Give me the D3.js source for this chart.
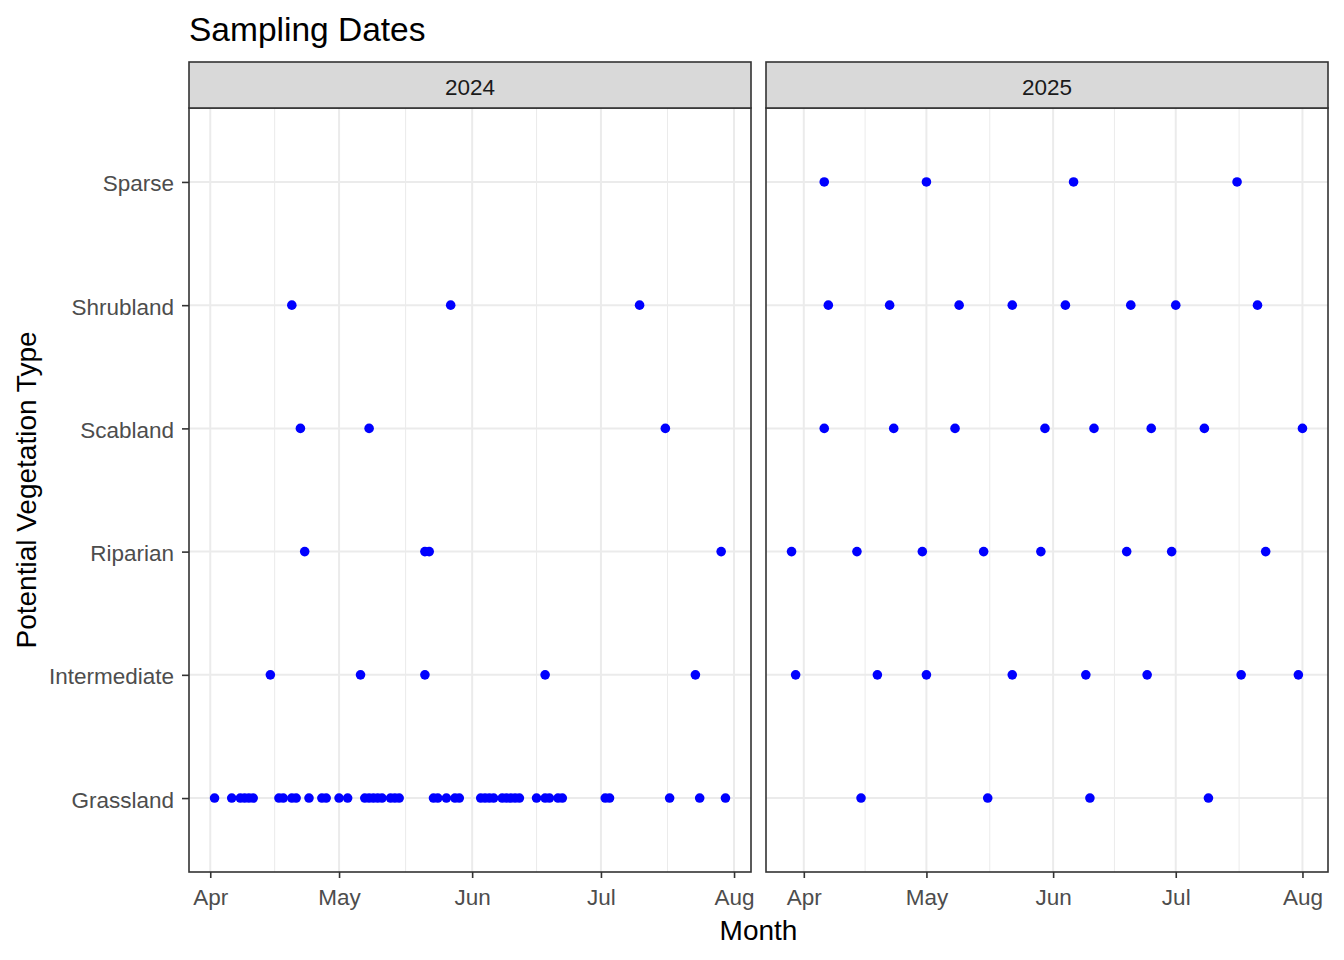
<!DOCTYPE html>
<html>
<head>
<meta charset="utf-8">
<script src="https://cdn.jsdelivr.net/npm/d3@7"></script>
<style>
  body { margin: 0; background: #fff; }
  svg { display: block; font-family: "Liberation Sans", Arial, sans-serif; }
</style>
</head>
<body>
<svg id="chart" width="1344" height="960"></svg>
<script>
// ---- Data ----
const vegTypes = ["Grassland", "Intermediate", "Riparian", "Scabland", "Shrubland", "Sparse"];
const years = ["2024", "2025"];
const monthTicks2024 = ["2024-04-01", "2024-05-01", "2024-06-01", "2024-07-01", "2024-08-01"];
const monthTicks2025 = ["2025-04-01", "2025-05-01", "2025-06-01", "2025-07-01", "2025-08-01"];

const grassland2024 = ["2024-04-02","2024-04-06","2024-04-08","2024-04-09","2024-04-10","2024-04-11",
  "2024-04-17","2024-04-18","2024-04-20","2024-04-21","2024-04-24","2024-04-27","2024-04-28",
  "2024-05-01","2024-05-03","2024-05-07","2024-05-08","2024-05-09","2024-05-10","2024-05-11",
  "2024-05-13","2024-05-14","2024-05-15","2024-05-23","2024-05-24","2024-05-26","2024-05-28","2024-05-29",
  "2024-06-03","2024-06-04","2024-06-05","2024-06-06","2024-06-08","2024-06-09","2024-06-10","2024-06-11","2024-06-12",
  "2024-06-16","2024-06-18","2024-06-19","2024-06-21","2024-06-22","2024-07-02","2024-07-03",
  "2024-07-17","2024-07-24","2024-07-30"];
const intermediate2024 = ["2024-04-15","2024-05-06","2024-05-21","2024-06-18","2024-07-23"];
const riparian2024 = ["2024-04-23","2024-05-21","2024-05-22","2024-07-29"];
const scabland2024 = ["2024-04-22","2024-05-08","2024-07-16"];
const shrubland2024 = ["2024-04-20","2024-05-27","2024-07-10"];
const sparse2024 = [];

const grassland2025 = ["2025-04-15","2025-05-16","2025-06-10","2025-07-09"];
const intermediate2025 = ["2025-03-30","2025-04-19","2025-05-01","2025-05-22","2025-06-09","2025-06-24","2025-07-17","2025-07-31"];
const riparian2025 = ["2025-03-29","2025-04-14","2025-04-30","2025-05-15","2025-05-29","2025-06-19","2025-06-30","2025-07-23"];
const scabland2025 = ["2025-04-06","2025-04-23","2025-05-08","2025-05-30","2025-06-11","2025-06-25","2025-07-08","2025-08-01"];
const shrubland2025 = ["2025-04-07","2025-04-22","2025-05-09","2025-05-22","2025-06-04","2025-06-20","2025-07-01","2025-07-21"];
const sparse2025 = ["2025-04-06","2025-05-01","2025-06-06","2025-07-16"];

const seriesByYear = {
  "2024": [grassland2024, intermediate2024, riparian2024, scabland2024, shrubland2024, sparse2024],
  "2025": [grassland2025, intermediate2025, riparian2025, scabland2025, shrubland2025, sparse2025]
};
const ticksByYear = { "2024": monthTicks2024, "2025": monthTicks2025 };

// ---- Layout ----
const svg = d3.select("#chart");
const parse = d3.utcParse("%Y-%m-%d");
const panelTop = 108, panelBottom = 872, stripTop = 62;
const panelW = 562, gap = 15, firstLeft = 189;
const textCol = "#4D4D4D";

svg.append("text")
  .attr("x", 189).attr("y", 41)
  .attr("font-size", 33.5).attr("fill", "#000")
  .text("Sampling Dates");

const y = d3.scalePoint().domain(vegTypes).range([panelBottom, panelTop]).padding(0.6);

years.forEach((yr, i) => {
  const left = firstLeft + i * (panelW + gap);
  const rows = seriesByYear[yr];
  const pts = [];
  rows.forEach((arr, k) => arr.forEach(d => pts.push({ type: vegTypes[k], date: parse(d) })));
  const ext = d3.extent(pts, d => +d.date);
  const pad = (ext[1] - ext[0]) * 0.05;
  const x = d3.scaleUtc().domain([new Date(ext[0] - pad), new Date(ext[1] + pad)]).range([left, left + panelW]);

  const g = svg.append("g");
  const ticks = ticksByYear[yr].map(parse);

  const minors = [];
  for (let j = 0; j < ticks.length - 1; j++) minors.push(new Date((+ticks[j] + +ticks[j + 1]) / 2));

  g.selectAll(".minor").data(minors).enter().append("line")
    .attr("x1", d => x(d)).attr("x2", d => x(d))
    .attr("y1", panelTop).attr("y2", panelBottom)
    .attr("stroke", "#EBEBEB").attr("stroke-width", 1.0);
  g.selectAll(".major").data(ticks).enter().append("line")
    .attr("x1", d => x(d)).attr("x2", d => x(d))
    .attr("y1", panelTop).attr("y2", panelBottom)
    .attr("stroke", "#EBEBEB").attr("stroke-width", 2);
  g.selectAll(".hgrid").data(vegTypes).enter().append("line")
    .attr("x1", left).attr("x2", left + panelW)
    .attr("y1", d => y(d)).attr("y2", d => y(d))
    .attr("stroke", "#EBEBEB").attr("stroke-width", 2);

  g.selectAll("circle").data(pts).enter().append("circle")
    .attr("cx", d => x(d.date)).attr("cy", d => y(d.type))
    .attr("r", 4.8).attr("fill", "#0000FF");

  g.append("rect")
    .attr("x", left).attr("y", panelTop).attr("width", panelW).attr("height", panelBottom - panelTop)
    .attr("fill", "none").attr("stroke", "#333333").attr("stroke-width", 1.6);

  g.append("rect")
    .attr("x", left).attr("y", stripTop).attr("width", panelW).attr("height", panelTop - stripTop)
    .attr("fill", "#D9D9D9").attr("stroke", "#333333").attr("stroke-width", 1.6);
  g.append("text")
    .attr("x", left + panelW / 2).attr("y", 95)
    .attr("text-anchor", "middle").attr("font-size", 22.5).attr("fill", "#1A1A1A")
    .text(yr);

  const xAxis = d3.axisBottom(x).tickValues(ticks).tickFormat(d3.utcFormat("%b")).tickSize(6).tickPadding(9);
  const ax = svg.append("g").attr("transform", `translate(0,${panelBottom})`).call(xAxis);
  ax.select(".domain").remove();
  ax.selectAll(".tick line").attr("stroke", "#333333").attr("stroke-width", 1.6);
  ax.selectAll(".tick text").attr("font-size", 22.5).attr("fill", textCol)
    .attr("font-family", "Liberation Sans, Arial, sans-serif").attr("dy", "0.8em");

  if (i === 0) {
    const yAxis = d3.axisLeft(y).tickSize(7).tickPadding(8);
    const ay = svg.append("g").attr("transform", `translate(${left},0)`).call(yAxis);
    ay.select(".domain").remove();
    ay.selectAll(".tick line").attr("stroke", "#333333").attr("stroke-width", 1.6);
    ay.selectAll(".tick text").attr("font-size", 22.5).attr("fill", textCol)
      .attr("font-family", "Liberation Sans, Arial, sans-serif").attr("dy", "0.4em");
  }
});

svg.append("text")
  .attr("x", firstLeft + (2 * panelW + gap) / 2).attr("y", 940)
  .attr("text-anchor", "middle").attr("font-size", 28).attr("fill", "#000")
  .text("Month");

svg.append("text")
  .attr("transform", `translate(36,${(panelTop + panelBottom) / 2}) rotate(-90)`)
  .attr("text-anchor", "middle").attr("font-size", 28).attr("fill", "#000")
  .text("Potential Vegetation Type");
</script>
</body>
</html>
